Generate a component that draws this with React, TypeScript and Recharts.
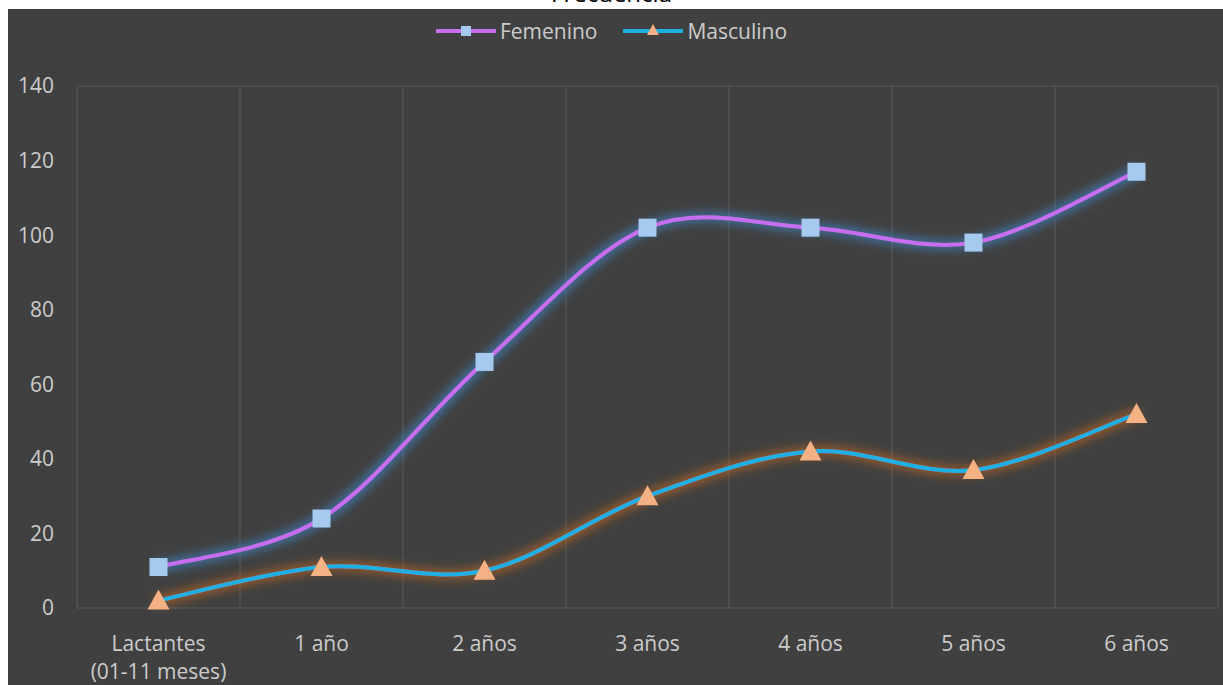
import { LineChart, Line, XAxis, YAxis, CartesianGrid } from 'recharts';

const categories = ['Lactantes\n(01-11 meses)', '1 año', '2 años', '3 años', '4 años', '5 años', '6 años'];
const femenino = [11, 24, 66, 102, 102, 98, 117];
const masculino = [2, 11, 10, 30, 42, 37, 52];
const yTicks = [0, 20, 40, 60, 80, 100, 120, 140];
const gridYTicks = [20, 40, 60, 80, 100, 120, 140];

const data = categories.map((name, i) => ({
  idx: i,
  name,
  Femenino: femenino[i],
  Masculino: masculino[i],
}));

const xTicks = categories.map((_, i) => i);
const gridXTicks = [...categories.map((_, i) => i - 0.5), categories.length - 0.5];

const FEM_LINE = '#c76ef0';
const FEM_MARK = '#a6caee';
const MASC_LINE = '#1cb0e3';
const MASC_MARK = '#f4b183';
const TEXT = '#cccccc';
const FONT = '"Open Sans", "Noto Sans", sans-serif';

// Excel-style smoothing (Catmull-Rom to bezier)
const excelCurve = (context: any) => {
  let pts: [number, number][] = [];
  return {
    areaStart() {},
    areaEnd() {},
    lineStart() {
      pts = [];
    },
    lineEnd() {
      const n = pts.length;
      if (!n) return;
      context.moveTo(pts[0][0], pts[0][1]);
      for (let i = 0; i < n - 1; i++) {
        const p0 = pts[i - 1] || pts[i];
        const p1 = pts[i];
        const p2 = pts[i + 1];
        const p3 = pts[i + 2] || p2;
        context.bezierCurveTo(
          p1[0] + (p2[0] - p0[0]) / 6,
          p1[1] + (p2[1] - p0[1]) / 6,
          p2[0] - (p3[0] - p1[0]) / 6,
          p2[1] - (p3[1] - p1[1]) / 6,
          p2[0],
          p2[1]
        );
      }
    },
    point(x: number, y: number) {
      pts.push([+x, +y]);
    },
  };
};

const SquareDot = (props: any) => {
  const { cx, cy, index } = props;
  if (cx == null || cy == null) return null;
  return <rect key={`sq-${index}`} x={cx - 9} y={cy - 9} width={18} height={18} fill={FEM_MARK} />;
};

const TriangleDot = (props: any) => {
  const { cx, cy, index } = props;
  if (cx == null || cy == null) return null;
  return (
    <polygon
      key={`tr-${index}`}
      points={`${cx},${cy - 11} ${cx - 11},${cy + 9} ${cx + 11},${cy + 9}`}
      fill={MASC_MARK}
    />
  );
};

const XTick = (props: any) => {
  const { x, y, payload } = props;
  const lines = categories[payload.value].split('\n');
  return (
    <text x={x} y={y} textAnchor="middle" fill={TEXT} fontSize={21} fontFamily={FONT}>
      {lines.map((l, i) => (
        <tspan key={i} x={x} dy={i === 0 ? 43 : 28}>
          {l}
        </tspan>
      ))}
    </text>
  );
};

const LegendItem = ({ label, line, mark, shape }: { label: string; line: string; mark: string; shape: 'square' | 'triangle' }) => (
  <div style={{ display: 'flex', alignItems: 'center', gap: 4 }}>
    <svg width={60} height={16}>
      <line x1={0} y1={8} x2={60} y2={8} stroke={line} strokeWidth={4} />
      {shape === 'square' ? (
        <rect x={25} y={3} width={10} height={10} fill={mark} />
      ) : (
        <polygon points="30,1 24,12 36,12" fill={mark} />
      )}
    </svg>
    <span>{label}</span>
  </div>
);

const glow = (id: string, color: string, opacity: number) => (
  <filter id={id} filterUnits="userSpaceOnUse" x={0} y={0} width={1223} height={685}>
    <feMorphology in="SourceAlpha" operator="dilate" radius={3} result="d" />
    <feGaussianBlur in="d" stdDeviation={5} result="b" />
    <feFlood floodColor={color} floodOpacity={opacity} />
    <feComposite in2="b" operator="in" result="g" />
    <feMerge>
      <feMergeNode in="g" />
      <feMergeNode in="SourceGraphic" />
    </feMerge>
  </filter>
);

export default function App() {
  return (
    <div style={{ position: 'absolute', left: 0, top: 0, width: 1223, height: 685, background: '#fff', overflow: 'hidden' }}>
      <style>{`.fem-series { filter: url(#glowBlue); } .masc-series { filter: url(#glowOrange); }`}</style>
      <div
        style={{
          position: 'absolute',
          left: 0,
          width: 1223,
          top: -22,
          textAlign: 'center',
          fontFamily: FONT,
          fontSize: 24,
          color: '#000',
          lineHeight: '30px',
        }}
      >
        Frecuencia
      </div>
      <div style={{ position: 'absolute', left: 8, top: 9, width: 1215, height: 676, background: '#404040' }} />
      <div
        style={{
          position: 'absolute',
          left: 0,
          top: 17,
          width: 1223,
          display: 'flex',
          justifyContent: 'center',
          gap: 26,
          fontFamily: FONT,
          fontSize: 21,
          color: TEXT,
          lineHeight: '28px',
        }}
      >
        <LegendItem label="Femenino" line={FEM_LINE} mark={FEM_MARK} shape="square" />
        <LegendItem label="Masculino" line={MASC_LINE} mark={MASC_MARK} shape="triangle" />
      </div>
      <div style={{ position: 'absolute', left: 0, top: 0 }}>
        <LineChart width={1223} height={685} data={data} margin={{ top: 86, right: 5, bottom: 47, left: 17 }}>
          <defs>
            {glow('glowBlue', '#3f86c8', 0.65)}
            {glow('glowOrange', '#c8691e', 0.6)}
          </defs>
          <XAxis
            xAxisId="grid"
            dataKey="idx"
            type="number"
            domain={[-0.5, categories.length - 0.5]}
            ticks={gridXTicks}
            hide
          />
          <YAxis yAxisId="grid" type="number" domain={[0, 140]} ticks={gridYTicks} hide />
          <CartesianGrid xAxisId="grid" yAxisId="grid" stroke="#5a5a5a" strokeWidth={1} />
          <XAxis
            dataKey="idx"
            type="number"
            domain={[-0.5, categories.length - 0.5]}
            ticks={xTicks}
            interval={0}
            axisLine={false}
            tickLine={false}
            tickSize={0}
            tickMargin={0}
            height={30}
            tick={<XTick />}
          />
          <YAxis
            type="number"
            domain={[0, 140]}
            ticks={yTicks}
            axisLine={false}
            tickLine={false}
            tickSize={0}
            tickMargin={23}
            width={60}
            tick={{ fill: TEXT, fontSize: 21, fontFamily: FONT }}
          />
          <Line
            className="fem-series"
            dataKey="Femenino"
            type={excelCurve as any}
            stroke={FEM_LINE}
            strokeWidth={4}
            dot={<SquareDot />}
            activeDot={false}
            isAnimationActive={false}
          />
          <Line
            className="masc-series"
            dataKey="Masculino"
            type={excelCurve as any}
            stroke={MASC_LINE}
            strokeWidth={4}
            dot={<TriangleDot />}
            activeDot={false}
            isAnimationActive={false}
          />
        </LineChart>
      </div>
    </div>
  );
}
